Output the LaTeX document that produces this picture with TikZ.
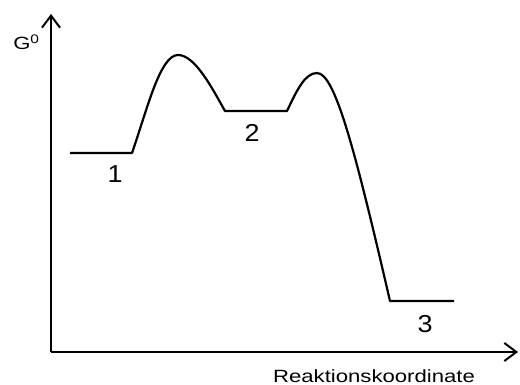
\documentclass[tikz,border=0pt]{standalone}
\usepackage{fontspec}
\setmainfont{Liberation Sans}
\usetikzlibrary{arrows.meta}

\begin{document}
\begin{tikzpicture}[
    x=1pt, y=-1pt,
    every node/.style={inner sep=0pt},
    axis/.style={line width=2pt, -{Straight Barb[length=12pt, width=18pt, line width=2pt]}},
    curve/.style={line width=2.2pt, line join=round},
    axislabel/.style={font=\fontsize{17.7}{21}\selectfont, xscale=1.25, anchor=base},
    num/.style={font=\fontsize{24.5}{28}\selectfont, xscale=1.1, anchor=base}
]
\useasboundingbox (0,0) rectangle (520,385);

% axes
\coordinate (origin) at (51,352);
\coordinate (ytip) at (51,14);
\coordinate (xtip) at (518,352);
\draw[axis] (origin) -- (ytip);
\draw[axis] (origin) -- (xtip);
\node[axislabel, anchor=base west] (glabel) at (13,50) {G\textsuperscript{0}};
\node[axislabel] (xlabel) at (374,382.5) {Reaktionskoordinate};

% energy levels and transition states
\coordinate (l1a) at (70,153);
\coordinate (l1b) at (132,153);
\coordinate (ts1) at (178,55);
\coordinate (l2a) at (225,111);
\coordinate (l2b) at (287,111);
\coordinate (ts2) at (317,73);
\coordinate (l3a) at (390,301);
\coordinate (l3b) at (454,301);

\draw[curve] (l1a) -- (l1b)
    .. controls (147,110) and (160,55) .. (ts1)
    .. controls (195,55) and (212,88) .. (l2a)
    -- (l2b)
    .. controls (297,90) and (305,73) .. (ts2)
    .. controls (335,73) and (355,150) .. (l3a)
    -- (l3b);

\node[num] (n1) at (115,182.5) {1};
\node[num] (n2) at (252,142) {2};
\node[num] (n3) at (425,332) {3};

\end{tikzpicture}
\end{document}
